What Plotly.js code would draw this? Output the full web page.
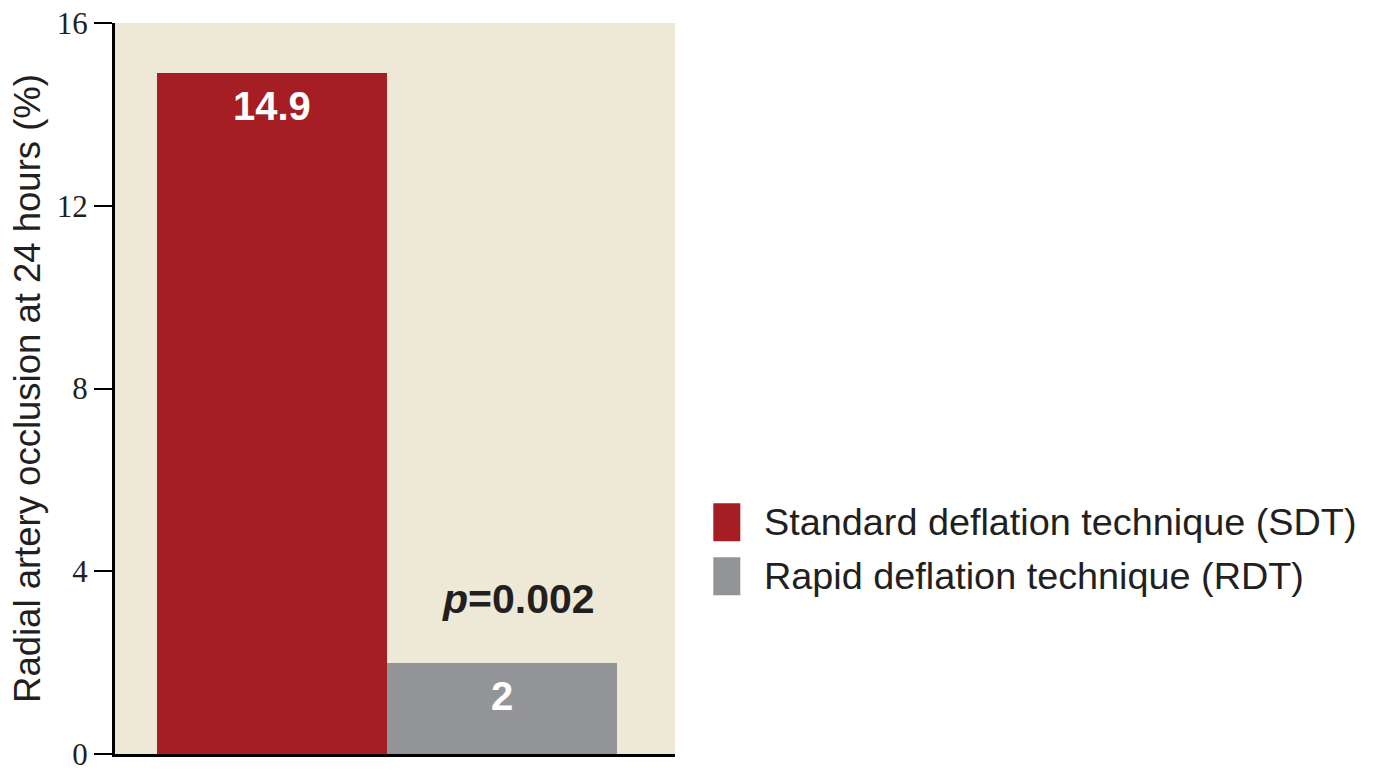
<!DOCTYPE html>
<html>
<head>
<meta charset="utf-8">
<script src="https://cdn.plot.ly/plotly-3.0.1.min.js"></script>
<style>html,body{margin:0;padding:0;background:#fff;}#chart{width:1375px;height:775px;}</style>
</head>
<body>
<div id="chart"></div>
<script>
const seriesNames = ["Standard deflation technique (SDT)", "Rapid deflation technique (RDT)"];
const values = [14.9, 2];
const valueLabels = ["14.9", "2"];
const colors = ["#A51E24", "#929497"];
const yTicks = [0, 4, 8, 12, 16];
const pValueText = "<i>p</i>=0.002";
const pValueY = 3.4;

const positions = [0, 1];
const traces = positions.map((p, i) => ({
  type: "bar",
  x: [p],
  y: [values[i]],
  width: [1],
  name: seriesNames[i],
  marker: {color: colors[i], line: {width: 0}},
  showlegend: false,
  hoverinfo: "skip"
}));

const sans = "'Liberation Sans', Arial, sans-serif";

const annotations = positions.map((p, i) => ({
  x: p, y: values[i], xref: "x", yref: "y",
  text: valueLabels[i], showarrow: false,
  yanchor: "top", yshift: -9,
  font: {family: sans, size: 40, color: "#ffffff", weight: "bold"}
}));
annotations.push({
  x: 1.07, y: pValueY, xref: "x", yref: "y",
  text: pValueText, showarrow: false,
  font: {family: sans, size: 41, color: "#231f20", weight: "bold"}
});

// legend drawn as shapes + text
const shapes = [];
const legendY = [0.317, 0.243];
seriesNames.forEach((n, i) => {
  shapes.push({type: "rect", xref: "paper", yref: "paper",
    x0: 1.0684, x1: 1.1166, y0: legendY[i] - 0.026, y1: legendY[i] + 0.026,
    fillcolor: colors[i], line: {width: 0}});
  annotations.push({xref: "paper", yref: "paper", x: 1.155, y: legendY[i],
    xanchor: "left", yanchor: "middle", text: n, showarrow: false,
    font: {family: sans, size: 37.8, color: "#231f20"}});
});

const layout = {
  width: 1375, height: 775,
  margin: {l: 115, r: 700, t: 23, b: 21},
  paper_bgcolor: "#ffffff",
  plot_bgcolor: "#EDE9D6",
  bargap: 0,
  xaxis: {range: [-0.683, 1.752], showticklabels: false, ticks: "", showgrid: false,
    zeroline: false, showline: true, linecolor: "#000000", linewidth: 3, fixedrange: true},
  yaxis: {range: [0, 16], tickvals: yTicks, ticktext: yTicks.map(String),
    ticks: "outside", ticklen: 18, tickwidth: 2, tickcolor: "#000",
    showgrid: false, zeroline: false, showline: true, linecolor: "#000000", linewidth: 3,
    tickfont: {family: "'Liberation Serif', 'Times New Roman', serif", size: 31, color: "#231f20"},
    title: {text: "Radial artery occlusion at 24 hours (%)", standoff: 6,
      font: {family: sans, size: 36.5, color: "#231f20"}}},
  shapes: shapes,
  annotations: annotations,
  showlegend: false
};

Plotly.newPlot("chart", traces, layout, {displayModeBar: false, staticPlot: true});
</script>
</body>
</html>
